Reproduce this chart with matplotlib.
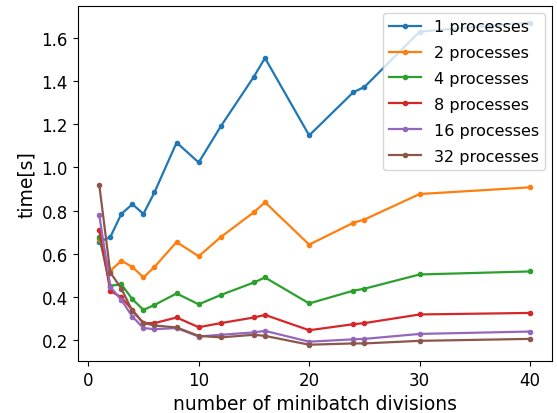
import matplotlib
matplotlib.use('Agg')
import matplotlib.pyplot as plt

divisions = [1, 2, 3, 4, 5, 6, 8, 10, 12, 15, 16, 20, 24, 25, 30, 40]
processes = [1, 2, 4, 8, 16, 32]

t1 = [0.655, 0.678, 0.785, 0.83, 0.785, 0.885, 1.115, 1.023, 1.19, 1.42, 1.506, 1.148, 1.348, 1.372, 1.628, 1.67]
t2 = [0.667, 0.522, 0.568, 0.54, 0.491, 0.54, 0.655, 0.589, 0.678, 0.793, 0.839, 0.643, 0.744, 0.759, 0.877, 0.908]
t4 = [0.678, 0.453, 0.459, 0.391, 0.341, 0.364, 0.417, 0.367, 0.41, 0.468, 0.491, 0.371, 0.43, 0.439, 0.505, 0.519]
t8 = [0.712, 0.428, 0.40, 0.34, 0.28, 0.28, 0.306, 0.261, 0.28, 0.306, 0.318, 0.247, 0.275, 0.28, 0.32, 0.327]
t16 = [0.78, 0.448, 0.387, 0.31, 0.257, 0.252, 0.257, 0.218, 0.226, 0.237, 0.244, 0.194, 0.205, 0.207, 0.23, 0.241]
t32 = [0.92, 0.514, 0.44, 0.336, 0.28, 0.269, 0.26, 0.221, 0.214, 0.226, 0.221, 0.18, 0.186, 0.186, 0.198, 0.207]
times = [t1, t2, t4, t8, t16, t32]
xticks = [0, 10, 20, 30, 40]

plt.rcParams['font.size'] = 12
fig = plt.figure(figsize=(5.57, 4.14), dpi=100)
fig.subplots_adjust(left=0.1395, right=0.9905, top=0.982, bottom=0.126)
for p, t in zip(processes, times):
    plt.plot(divisions, t, marker='.', linewidth=1.6, label=f'{p} processes')
plt.xticks(xticks)
plt.xlabel('number of minibatch divisions', fontsize=13.5)
plt.ylabel('time[s]', fontsize=13.5)
plt.legend(loc='upper right', fontsize=11.5, labelspacing=0.68, borderaxespad=0.4)
plt.savefig('out.png', dpi=100)
